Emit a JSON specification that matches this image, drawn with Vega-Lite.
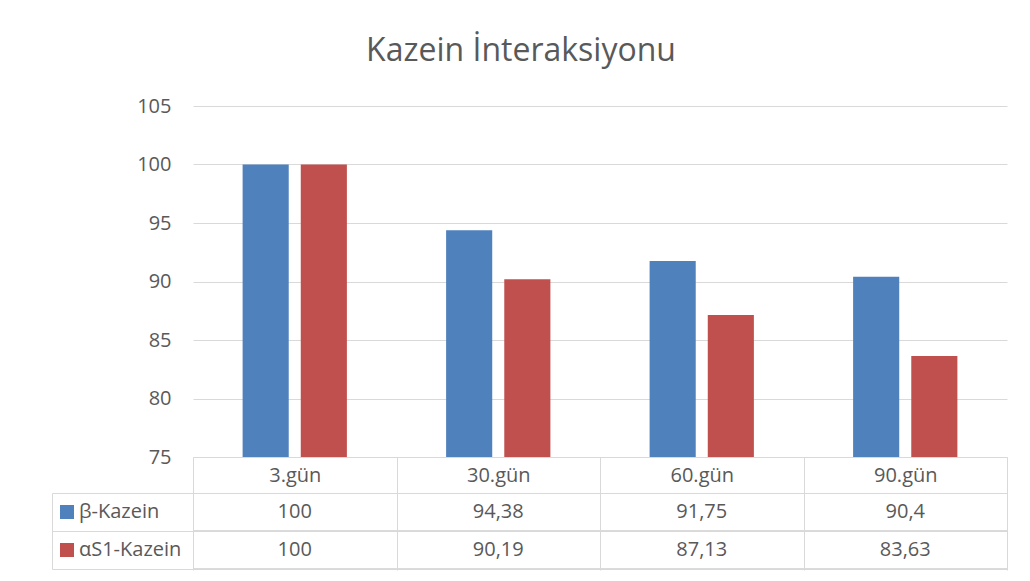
{
  "$schema": "https://vega.github.io/schema/vega-lite/v6.json",
  "width": 814,
  "height": 351,
  "padding": {"left": 193, "top": 106, "right": 23, "bottom": 124},
  "autosize": {"type": "none"},
  "background": "#ffffff",
  "title": {
    "text": "Kazein İnteraksiyonu",
    "fontSize": 32,
    "fontWeight": "normal",
    "color": "#595959",
    "font": "Open Sans",
    "anchor": "middle",
    "frame": "group",
    "baseline": "alphabetic",
    "offset": 3,
    "dx": -79
  },
  "data": {
    "values": [
      {"day": "3.gün", "series": "β-Kazein", "value": 100},
      {"day": "3.gün", "series": "αS1-Kazein", "value": 100},
      {"day": "30.gün", "series": "β-Kazein", "value": 94.38},
      {"day": "30.gün", "series": "αS1-Kazein", "value": 90.19},
      {"day": "60.gün", "series": "β-Kazein", "value": 91.75},
      {"day": "60.gün", "series": "αS1-Kazein", "value": 87.13},
      {"day": "90.gün", "series": "β-Kazein", "value": 90.4},
      {"day": "90.gün", "series": "αS1-Kazein", "value": 83.63}
    ]
  },
  "layer": [
    {
      "mark": {"type": "bar"},
      "encoding": {
        "x": {
          "field": "day",
          "type": "nominal",
          "sort": ["3.gün", "30.gün", "60.gün", "90.gün"],
          "scale": {"paddingInner": 0, "paddingOuter": 0},
          "axis": {
            "title": null,
            "orient": "bottom",
            "labelAngle": 0,
            "domain": true,
            "domainColor": "#d9d9d9",
            "domainWidth": 1,
            "ticks": true,
            "tickSize": 113,
            "tickColor": "#d9d9d9",
            "tickWidth": 1,
            "tickBand": "extent",
            "labelFontSize": 20,
            "labelColor": "#595959",
            "labelBaseline": "middle",
            "labelPadding": -95,
            "grid": false
          }
        },
        "xOffset": {
          "field": "series",
          "type": "nominal",
          "scale": {"domain": ["β-Kazein", "αS1-Kazein"], "paddingInner": 0.207, "paddingOuter": 0.853}
        },
        "y": {
          "field": "value",
          "type": "quantitative",
          "scale": {"domain": [75, 105], "zero": false, "nice": false},
          "axis": {
            "title": null,
            "orient": "left",
            "values": [75, 80, 85, 90, 95, 100, 105],
            "grid": true,
            "gridColor": "#d9d9d9",
            "gridWidth": 1,
            "domain": false,
            "ticks": false,
            "tickSize": 0,
            "labelPadding": 22,
            "labelFontSize": 20,
            "labelColor": "#595959"
          }
        },
        "y2": {"datum": 75},
        "color": {
          "field": "series",
          "type": "nominal",
          "scale": {"domain": ["β-Kazein", "αS1-Kazein"], "range": ["#4f81bd", "#c0504d"]},
          "legend": {
            "title": null,
            "orient": "none",
            "legendX": -136,
            "legendY": 396,
            "padding": 0,
            "symbolType": "square",
            "symbolSize": 196,
            "symbolStrokeWidth": 0,
            "labelFontSize": 20,
            "labelColor": "#595959",
            "labelOffset": 2,
            "rowPadding": 18
          }
        }
      }
    },
    {
      "mark": {"type": "text", "fontSize": 20, "color": "#595959"},
      "encoding": {
        "x": {"field": "day", "type": "nominal", "sort": ["3.gün", "30.gün", "60.gün", "90.gün"]},
        "y": {
          "field": "series",
          "type": "nominal",
          "scale": {"domain": ["β-Kazein", "αS1-Kazein"], "range": [387, 463], "paddingInner": 0, "paddingOuter": 0},
          "axis": {
            "title": null,
            "orient": "left",
            "labels": false,
            "ticks": true,
            "tickSize": 141,
            "tickColor": "#d9d9d9",
            "tickWidth": 1,
            "tickBand": "extent",
            "grid": true,
            "gridColor": "#d9d9d9",
            "gridWidth": 1,
            "domain": true,
            "domainColor": "#d9d9d9",
            "domainWidth": 1
          }
        },
        "text": {"field": "value", "type": "quantitative", "format": "~g"}
      }
    },
    {
      "mark": {"type": "rule", "color": "#d9d9d9", "strokeWidth": 1},
      "encoding": {
        "y": {
          "field": "series",
          "type": "nominal",
          "bandPosition": 1,
          "scale": {"domain": ["β-Kazein", "αS1-Kazein"], "range": [387, 463], "paddingInner": 0, "paddingOuter": 0},
          "axis": {
            "title": null,
            "orient": "left",
            "offset": 141,
            "labels": false,
            "ticks": false,
            "grid": false,
            "domain": true,
            "domainColor": "#d9d9d9",
            "domainWidth": 1
          }
        }
      }
    }
  ],
  "resolve": {"scale": {"y": "independent"}},
  "config": {
    "font": "Open Sans",
    "view": {"stroke": null},
    "locale": {"number": {"decimal": ",", "thousands": ".", "grouping": [3], "currency": ["", " TL"]}}
  }
}
